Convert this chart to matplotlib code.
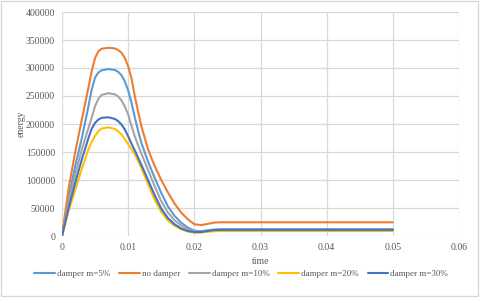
import matplotlib
matplotlib.use("Agg")
import matplotlib.pyplot as plt
from matplotlib.patches import Rectangle

t = [0, 0.001, 0.002, 0.003, 0.004, 0.0045, 0.005, 0.0055, 0.006, 0.007,
     0.008, 0.0085, 0.009, 0.0095, 0.010, 0.0105, 0.011, 0.0115, 0.012, 0.013,
     0.014, 0.015, 0.016, 0.017, 0.018, 0.019, 0.020, 0.021, 0.022, 0.023,
     0.024, 0.025, 0.050]

damper_5 = [0, 68000, 125000, 175000, 232000, 262000, 283000, 292000, 296000, 298000,
            296500, 293000, 287000, 276000, 260000, 238000, 212000, 188000, 166000, 133000,
            104000, 77000, 53000, 36000, 24000, 15000, 9500, 8500, 10000, 11500,
            12000, 12000, 12000]
no_damper = [0, 85000, 150000, 208000, 265000, 295000, 318000, 330000, 334500, 336000,
             335000, 332000, 327000, 318000, 303000, 282000, 250000, 222000, 196000, 155000,
             125000, 100000, 78000, 58000, 42000, 30000, 21000, 19500, 21500, 24000,
             24500, 24500, 24500]
damper_10 = [0, 60000, 110000, 155000, 193000, 212000, 232000, 245000, 252000, 255000,
             253000, 249000, 242000, 231000, 217000, 197000, 178000, 162000, 147000, 118000,
             89000, 62000, 42000, 28000, 19000, 12000, 8000, 7500, 9000, 10000,
             10500, 10500, 10500]
damper_20 = [0, 45000, 82000, 120000, 155000, 168000, 179000, 187000, 192000, 194000,
             191000, 187000, 181000, 173000, 164000, 155000, 146000, 134000, 121000, 93000,
             65000, 43000, 28000, 18500, 12000, 8000, 6000, 6000, 7500, 8500,
             9000, 9000, 9000]
damper_30 = [0, 50000, 95000, 137000, 175000, 192000, 202000, 208000, 211000, 212000,
             209000, 205000, 199000, 190000, 178000, 165000, 153000, 140000, 127000, 100000,
             73000, 49000, 32000, 21000, 13500, 9000, 7000, 7000, 9000, 10500,
             11000, 11000, 11000]

series = [
    ("damper m=5%", damper_5, "#5B9BD5"),
    ("no damper", no_damper, "#ED7D31"),
    ("damper m=10%", damper_10, "#A5A5A5"),
    ("damper m=20%", damper_20, "#FFC000"),
    ("damper m=30%", damper_30, "#4472C4"),
]

x_ticks = [0, 0.01, 0.02, 0.03, 0.04, 0.05, 0.06]
x_tick_labels = ["0", "0.01", "0.02", "0.03", "0.04", "0.05", "0.06"]
y_ticks = [0, 50000, 100000, 150000, 200000, 250000, 300000, 350000, 400000]

plt.rcParams['font.family'] = ['Liberation Serif', 'DejaVu Serif']

fig = plt.figure(figsize=(4.8, 2.99), dpi=100)
ax = fig.add_axes([62/480, 1-236/299, (459-62)/480, (236-12)/299])

for name, vals, col in series:
    ax.plot(t, vals, color=col, lw=1.5, label=name, solid_capstyle='round',
            solid_joinstyle='round')

ax.set_xlim(0, 0.06)
ax.set_ylim(0, 400000)
ax.set_xticks(x_ticks)
ax.set_xticklabels(x_tick_labels)
ax.set_yticks(y_ticks)
ax.set_yticklabels([str(v) for v in y_ticks])
for s in ax.spines.values():
    s.set_visible(False)
ax.grid(True, color="#D9D9D9", lw=0.9)
ax.set_axisbelow(True)
ax.tick_params(length=0, labelsize=7, colors="#595959", pad=5)

ax.set_xlabel("time", fontsize=7, color="#595959", labelpad=4)
ax.set_ylabel("energy", fontsize=7, color="#595959")
ax.yaxis.set_label_coords(-0.092, 0.5)

leg = fig.legend(loc="center", bbox_to_anchor=(241/480, 1-274/299), ncol=5,
                 frameon=False, fontsize=6.5, handlelength=2.3, handletextpad=0.2,
                 columnspacing=1.0)
for txt in leg.get_texts():
    txt.set_color("#595959")

fig.patches.append(Rectangle((1/480, 3/299), 477/480, 295/299, transform=fig.transFigure,
                             fill=False, edgecolor="#D9D9D9", lw=1))

fig.savefig("out.png", dpi=100)
